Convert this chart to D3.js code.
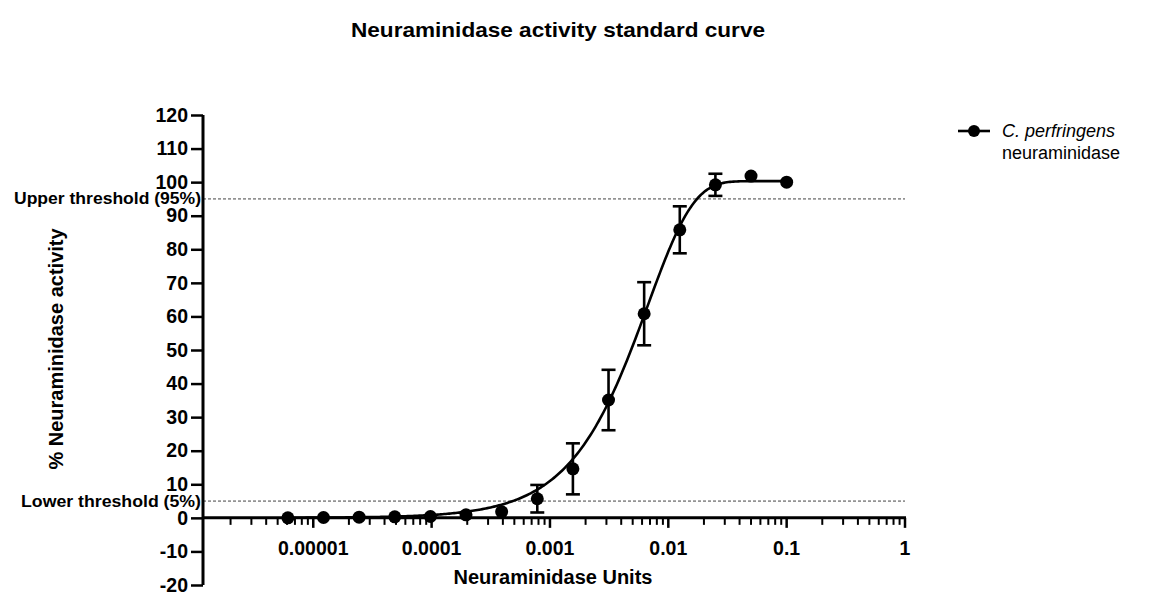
<!DOCTYPE html>
<html>
<head>
<meta charset="utf-8">
<script src="https://cdn.jsdelivr.net/npm/d3@7"></script>
<style>
  body { margin: 0; background: #fff; }
  svg { font-family: "Liberation Sans", Arial, sans-serif; }
</style>
</head>
<body>
<svg id="chart" width="1167" height="592"></svg>
<script>
// Dose (units) - twofold dilution series
const doses = [0.1, 0.05, 0.025, 0.0125, 0.00625, 0.003125, 0.0015625, 0.00078125,
  0.000390625, 0.0001953, 0.0000977, 0.0000488, 0.0000244, 0.0000122, 0.0000061];
// % activity (mean)
const activity = [100, 101.8, 99.2, 85.8, 60.8, 35.1, 14.6, 5.7, 1.8, 0.9, 0.4, 0.3, 0.2, 0.1, 0];
// error (+/-)
const errors = [0, 0, 3.3, 7, 9.4, 9, 7.6, 4.1, 0, 0, 0, 0, 0, 0, 0];
// fitted curve parameters (asymmetric sigmoid)
const fit = { top: 100.3, x0: 0.00673, h: 1.13 };
const yTicks = [-20, -10, 0, 10, 20, 30, 40, 50, 60, 70, 80, 90, 100, 110, 120];
const xMajor = [0.00001, 0.0001, 0.001, 0.01, 0.1, 1];
const xMajorLabels = ['0.00001', '0.0001', '0.001', '0.01', '0.1', '1'];
const thresholds = [
  { v: 95, label: 'Upper threshold (95%)', len: 187 },
  { v: 5, label: 'Lower threshold (5%)', len: 180 }
];

const svg = d3.select('#chart');

const x = d3.scaleLog().domain([1.17e-6, 1]).range([203, 905]);
const y = d3.scaleLinear().domain([-20, 120]).range([585, 115]);

// Title
svg.append('text')
  .attr('x', 558).attr('y', 37)
  .attr('text-anchor', 'middle')
  .attr('font-weight', 'bold').attr('font-size', 21)
  .attr('textLength', 414).attr('lengthAdjust', 'spacingAndGlyphs')
  .text('Neuraminidase activity standard curve');

// Threshold lines
thresholds.forEach((t) => {
  svg.append('line')
    .attr('x1', 203).attr('x2', 905)
    .attr('y1', y(t.v)).attr('y2', y(t.v))
    .attr('stroke', '#444').attr('stroke-width', 1)
    .attr('stroke-dasharray', '3,2');
  svg.append('text')
    .attr('x', 201).attr('y', y(t.v) + 5.5)
    .attr('text-anchor', 'end')
    .attr('font-weight', 'bold').attr('font-size', 16)
    .attr('textLength', t.len).attr('lengthAdjust', 'spacingAndGlyphs')
    .text(t.label);
});

// Y axis
const yAxis = d3.axisLeft(y).tickValues(yTicks).tickSize(12).tickPadding(3)
  .tickFormat(d => String(d));
const gy = svg.append('g').attr('transform', 'translate(203,0)').call(yAxis);
gy.select('.domain').attr('stroke-width', 3).attr('d', `M0,${y(-20)}V${y(120)}`);
gy.selectAll('.tick line').attr('stroke-width', 2.5);
gy.selectAll('.tick text').attr('font-size', 19.5).attr('font-weight', 'bold')
  .attr('font-family', '"Liberation Sans", Arial, sans-serif');

// X axis (at y = 0)
const minor = [];
for (let k = -6; k <= -1; k++) {
  for (let m = 2; m <= 9; m++) {
    const v = m * Math.pow(10, k);
    if (v >= x.domain()[0]) minor.push(v);
  }
}
const gx = svg.append('g').attr('transform', `translate(0,${y(0)})`);
gx.append('line').attr('x1', 203).attr('x2', 906).attr('stroke', '#000').attr('stroke-width', 3);
gx.selectAll('.minor').data(minor).enter().append('line')
  .attr('x1', d => x(d)).attr('x2', d => x(d))
  .attr('y1', 0).attr('y2', 7)
  .attr('stroke', '#000').attr('stroke-width', 2);
gx.selectAll('.major').data(xMajor).enter().append('line')
  .attr('x1', d => x(d)).attr('x2', d => x(d))
  .attr('y1', 0).attr('y2', 10)
  .attr('stroke', '#000').attr('stroke-width', 2.5);
gx.selectAll('.lbl').data(xMajor).enter().append('text')
  .attr('x', d => x(d)).attr('y', 37)
  .attr('text-anchor', 'middle')
  .attr('font-size', 19.5).attr('font-weight', 'bold')
  .text((d, i) => xMajorLabels[i]);

// Axis titles
svg.append('text')
  .attr('x', 553).attr('y', 584)
  .attr('text-anchor', 'middle')
  .attr('font-size', 20).attr('font-weight', 'bold')
  .text('Neuraminidase Units');
svg.append('text')
  .attr('transform', 'translate(63,349) rotate(-90)')
  .attr('text-anchor', 'middle')
  .attr('font-size', 20).attr('font-weight', 'bold')
  .text('% Neuraminidase activity');

// Fitted curve
const model = d => fit.top * (1 - Math.exp(-Math.pow(d / fit.x0, fit.h)));
const lo = Math.log10(d3.min(doses));
const hi = Math.log10(d3.max(doses));
const curvePts = d3.range(0, 301).map(i => Math.pow(10, lo + (hi - lo) * i / 300));
svg.append('path')
  .datum(curvePts)
  .attr('fill', 'none').attr('stroke', '#000').attr('stroke-width', 2.6)
  .attr('d', d3.line().x(d => x(d)).y(d => y(model(d))));

// Error bars
const pts = doses.map((d, i) => ({ d, v: activity[i], e: errors[i] }));
const eb = svg.append('g').selectAll('g').data(pts.filter(p => p.e > 0)).enter().append('g')
  .attr('stroke', '#000').attr('stroke-width', 2.6);
eb.append('line').attr('x1', p => x(p.d)).attr('x2', p => x(p.d))
  .attr('y1', p => y(p.v + p.e)).attr('y2', p => y(Math.max(0, p.v - p.e)));
eb.append('line').attr('x1', p => x(p.d) - 7).attr('x2', p => x(p.d) + 7)
  .attr('y1', p => y(p.v + p.e)).attr('y2', p => y(p.v + p.e));
eb.append('line').attr('x1', p => x(p.d) - 7).attr('x2', p => x(p.d) + 7)
  .attr('y1', p => y(Math.max(0, p.v - p.e))).attr('y2', p => y(Math.max(0, p.v - p.e)));

// Points
svg.append('g').selectAll('circle').data(pts).enter().append('circle')
  .attr('cx', p => x(p.d)).attr('cy', p => y(p.v)).attr('r', 6.5)
  .attr('fill', '#000');

// Legend
const lg = svg.append('g');
lg.append('line').attr('x1', 958).attr('x2', 990).attr('y1', 131).attr('y2', 131)
  .attr('stroke', '#000').attr('stroke-width', 2.6);
lg.append('circle').attr('cx', 974).attr('cy', 131).attr('r', 6).attr('fill', '#000');
lg.append('text').attr('x', 1002).attr('y', 137).attr('font-size', 18)
  .attr('font-style', 'italic').text('C. perfringens');
lg.append('text').attr('x', 1002).attr('y', 159).attr('font-size', 18)
  .text('neuraminidase');
</script>
</body>
</html>
